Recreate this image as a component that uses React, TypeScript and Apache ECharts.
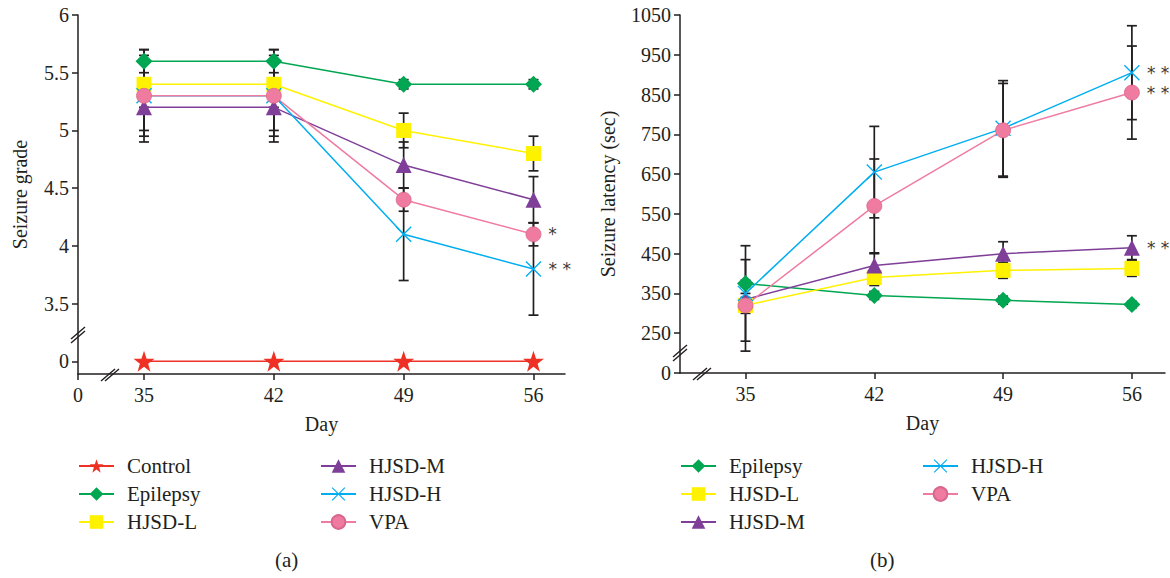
import React, { useEffect, useRef } from "react";
import * as echarts from "echarts";

// ---------- data ----------
const days = [35, 42, 49, 56];

// (a) Seizure grade
const gradeControl = [0, 0, 0, 0];
const gradeEpilepsy = [5.6, 5.6, 5.4, 5.4];
const gradeHJSDL = [5.4, 5.4, 5.0, 4.8];
const gradeHJSDM = [5.2, 5.2, 4.7, 4.4];
const gradeHJSDH = [5.3, 5.3, 4.1, 3.8];
const gradeVPA = [5.3, 5.3, 4.4, 4.1];

const gradeErrControl = [0, 0, 0, 0];
const gradeErrEpilepsy = [0.1, 0.1, 0.04, 0.04];
const gradeErrHJSDL = [0.2, 0.2, 0.15, 0.15];
const gradeErrHJSDM = [0.2, 0.2, 0.2, 0.2];
const gradeErrHJSDH = [0.4, 0.4, 0.4, 0.4];
const gradeErrVPA = [0.35, 0.35, 0.1, 0.1];

const gradeMarksHJSDH = ["", "", "", "* *"];
const gradeMarksVPA = ["", "", "", "*"];

const gradeTicks = [0, 3.5, 4, 4.5, 5, 5.5, 6];

// (b) Seizure latency (sec)
const latEpilepsy = [375, 345, 333, 322];
const latHJSDL = [320, 390, 408, 413];
const latHJSDM = [335, 420, 450, 465];
const latHJSDH = [350, 655, 765, 905];
const latVPA = [320, 570, 760, 855];

const latErrEpilepsy = [8, 10, 10, 8];
const latErrHJSDL = [20, 20, 20, 20];
const latErrHJSDM = [15, 30, 30, 30];
const latErrHJSDH = [120, 115, 120, 118];
const latErrVPA = [115, 118, 118, 117];

const latMarksHJSDM = ["", "", "", "* *"];
const latMarksHJSDH = ["", "", "", "* *"];
const latMarksVPA = ["", "", "", "* *"];

const latTicks = [0, 250, 350, 450, 550, 650, 750, 850, 950, 1050];

// ---------- styles ----------
const FONT = '"Liberation Serif", "Times New Roman", serif';
const INK = "#231f20";
const COLORS = {
  Control: "#ee3124",
  Epilepsy: "#00a651",
  "HJSD-L": "#fff200",
  "HJSD-M": "#7f3f98",
  "HJSD-H": "#00aeef",
  VPA: "#f07ba0",
};
const STAR =
  "path://M50,0 L61.8,34.5 L98,34.5 L68.9,56 L79.4,91 L50,69.5 L20.6,91 L31.1,56 L2,34.5 L38.2,34.5 Z";
const CROSS =
  "path://M0,6 L6,0 L100,94 L94,100 Z M94,0 L100,6 L6,100 L0,94 Z";
const SYMBOLS = {
  Control: { symbol: STAR, size: 21 },
  Epilepsy: { symbol: "diamond", size: 17 },
  "HJSD-L": { symbol: "rect", size: 15 },
  "HJSD-M": { symbol: "triangle", size: 16 },
  "HJSD-H": { symbol: CROSS, size: 16 },
  VPA: { symbol: "circle", size: 15 },
};

const X0 = 31.44; // axis origin position (day "0" label, broken axis)

type Def = { name: string; values: number[]; errors: number[]; marks?: string[] };

function errorSeries(def: Def, mapY: (v: number) => number) {
  return {
    type: "custom",
    name: def.name + " err",
    silent: true,
    z: 1,
    encode: { x: 0, y: [1, 2] },
    data: days
      .map((d, j) => [d, mapY(def.values[j] - def.errors[j]), mapY(def.values[j] + def.errors[j]), def.errors[j]])
      .filter((r) => r[3] > 0),
    renderItem: (params: any, api: any) => {
      const x = api.value(0);
      const top = api.coord([x, api.value(2)]);
      const bot = api.coord([x, api.value(1)]);
      const w = 5;
      const st = { stroke: INK, lineWidth: 1.7 };
      return {
        type: "group",
        children: [
          { type: "line", shape: { x1: top[0], y1: top[1], x2: bot[0], y2: bot[1] }, style: st },
          { type: "line", shape: { x1: top[0] - w, y1: top[1], x2: top[0] + w, y2: top[1] }, style: st },
          { type: "line", shape: { x1: bot[0] - w, y1: bot[1], x2: bot[0] + w, y2: bot[1] }, style: st },
        ],
      };
    },
  };
}

function lineSeries(def: Def, mapY: (v: number) => number) {
  const color = (COLORS as any)[def.name];
  const sym = (SYMBOLS as any)[def.name];
  return {
    type: "line",
    name: def.name,
    z: 3,
    symbol: sym.symbol,
    symbolSize: sym.size,
    itemStyle: {
      color,
      borderColor: def.name === "VPA" ? "#d9668c" : color,
      borderWidth: def.name === "VPA" ? 0.8 : 0,
    },
    lineStyle: { color, width: 1.5 },
    data: days.map((d, j) => {
      const m = def.marks ? def.marks[j] : "";
      const item: any = { value: [d, mapY(def.values[j])] };
      if (m) {
        item.label = {
          show: true,
          position: "right",
          distance: 7,
          formatter: m,
          fontFamily: '"DejaVu Sans", sans-serif',
          fontSize: 17,
          color: "#3a3a3a",
        };
      }
      return item;
    }),
  };
}

function breakMark(cx: number, cy: number, dx: number, dy: number) {
  const st = { stroke: INK, lineWidth: 1.4 };
  return {
    type: "group",
    silent: true,
    children: [
      { type: "line", shape: { x1: cx - 7, y1: cy + 6, x2: cx + 7, y2: cy - 6 }, style: st },
      { type: "line", shape: { x1: cx - 7 + dx, y1: cy + 6 + dy, x2: cx + 7 + dx, y2: cy - 6 + dy }, style: st },
    ],
  };
}

const legendText = { fontFamily: FONT, fontSize: 21, color: INK, padding: [0, 0, 0, 8], lineHeight: 22 };

function legendCol(names: string[], left: number) {
  return {
    data: names,
    orient: "vertical",
    left,
    top: 450,
    itemWidth: 35,
    itemHeight: 17,
    itemGap: 6,
    selectedMode: false,
    textStyle: legendText,
  };
}

const axisText = { fontFamily: FONT, fontSize: 20, color: INK };

function buildOption(p: {
  gridLeft: number;
  gridWidth: number;
  gridHeight: number;
  xMax: number;
  xTicks: number[];
  yMin: number;
  yMax: number;
  yTicks: number[];
  mapY: (v: number) => number;
  yName: string;
  yNameGap: number;
  defs: Def[];
  legends: string[][];
  legendLefts: number[];
  caption: string;
  captionX: number;
  yBreakY: number;
  xBreakX: number;
}) {
  const series: any[] = [];
  p.defs.forEach((d) => series.push(errorSeries(d, p.mapY)));
  p.defs.forEach((d) => series.push(lineSeries(d, p.mapY)));
  const yTickPos = p.yTicks.map(p.mapY);
  const axisBottom = 15 + p.gridHeight;
  return {
    animation: false,
    backgroundColor: "#ffffff",
    textStyle: { fontFamily: FONT },
    grid: { left: p.gridLeft, top: 15, width: p.gridWidth, height: p.gridHeight },
    xAxis: {
      type: "value",
      min: X0,
      max: p.xMax,
      name: "Day",
      nameLocation: "middle",
      nameGap: 40,
      nameTextStyle: axisText,
      axisLine: { show: true, onZero: false, lineStyle: { color: INK, width: 1.5 } },
      axisTick: { show: true, length: 6, customValues: p.xTicks, lineStyle: { color: INK, width: 1.5 } },
      axisLabel: {
        ...axisText,
        margin: 11,
        customValues: p.xTicks,
        formatter: (v: number) => (v < 34 ? "0" : String(v)),
      },
      splitLine: { show: false },
    },
    yAxis: {
      type: "value",
      min: p.yMin,
      max: p.yMax,
      name: p.yName,
      nameLocation: "middle",
      nameGap: p.yNameGap,
      nameTextStyle: axisText,
      axisLine: { show: true, onZero: false, lineStyle: { color: INK, width: 1.5 } },
      axisTick: { show: true, length: 6, customValues: yTickPos, lineStyle: { color: INK, width: 1.5 } },
      axisLabel: {
        ...axisText,
        margin: 9,
        customValues: yTickPos,
        formatter: (v: number) => {
          const i = yTickPos.findIndex((t) => Math.abs(t - v) < 1e-6);
          return i >= 0 ? String(p.yTicks[i]) : "";
        },
      },
      splitLine: { show: false },
    },
    legend: p.legends.map((names, i) => legendCol(names, p.legendLefts[i])),
    graphic: [
      breakMark(p.gridLeft, p.yBreakY, 0, 4),
      breakMark(p.xBreakX, axisBottom + 1, 4, 0),
      {
        type: "text",
        left: p.captionX,
        top: 549,
        style: { text: p.caption, fontFamily: FONT, fontSize: 21, fill: INK },
      },
    ],
    series,
  };
}

const gradeMapY = (v: number) => (v === 0 ? 3 : v);
const latMapY = (v: number) => (v === 0 ? 150 : v);

const optionA = buildOption({
  gridLeft: 78,
  gridWidth: 487,
  gridHeight: 359,
  xMax: 57.7,
  xTicks: [X0, ...days],
  yMin: 2.89,
  yMax: 6,
  yTicks: gradeTicks,
  mapY: gradeMapY,
  yName: "Seizure grade",
  yNameGap: 48,
  defs: [
    { name: "Control", values: gradeControl, errors: gradeErrControl },
    { name: "Epilepsy", values: gradeEpilepsy, errors: gradeErrEpilepsy },
    { name: "HJSD-L", values: gradeHJSDL, errors: gradeErrHJSDL },
    { name: "HJSD-M", values: gradeHJSDM, errors: gradeErrHJSDM },
    { name: "HJSD-H", values: gradeHJSDH, errors: gradeErrHJSDH, marks: gradeMarksHJSDH },
    { name: "VPA", values: gradeVPA, errors: gradeErrVPA, marks: gradeMarksVPA },
  ],
  legends: [
    ["Control", "Epilepsy", "HJSD-L"],
    ["HJSD-M", "HJSD-H", "VPA"],
  ],
  legendLefts: [73, 315],
  caption: "(a)",
  captionX: 275,
  yBreakY: 333,
  xBreakX: 108,
});

const optionB = buildOption({
  gridLeft: 95,
  gridWidth: 485,
  gridHeight: 358,
  xMax: 57.8,
  xTicks: days,
  yMin: 150,
  yMax: 1050,
  yTicks: latTicks,
  mapY: latMapY,
  yName: "Seizure latency (sec)",
  yNameGap: 62,
  defs: [
    { name: "Epilepsy", values: latEpilepsy, errors: latErrEpilepsy },
    { name: "HJSD-L", values: latHJSDL, errors: latErrHJSDL },
    { name: "HJSD-M", values: latHJSDM, errors: latErrHJSDM, marks: latMarksHJSDM },
    { name: "HJSD-H", values: latHJSDH, errors: latErrHJSDH, marks: latMarksHJSDH },
    { name: "VPA", values: latVPA, errors: latErrVPA, marks: latMarksVPA },
  ],
  legends: [
    ["Epilepsy", "HJSD-L", "HJSD-M"],
    ["HJSD-H", "VPA"],
  ],
  legendLefts: [90, 332],
  caption: "(b)",
  captionX: 285,
  yBreakY: 351,
  xBreakX: 115,
});

function Panel({ option }: { option: any }) {
  const ref = useRef<HTMLDivElement>(null);
  useEffect(() => {
    const chart = echarts.init(ref.current!, null, { renderer: "svg" });
    chart.setOption(option);
    return () => chart.dispose();
  }, [option]);
  return <div ref={ref} style={{ width: 585, height: 578 }} />;
}

export default function App() {
  return (
    <div
      style={{
        position: "absolute",
        left: 0,
        top: 0,
        width: 1170,
        height: 578,
        display: "flex",
        background: "#ffffff",
      }}
    >
      <Panel option={optionA} />
      <Panel option={optionB} />
    </div>
  );
}
